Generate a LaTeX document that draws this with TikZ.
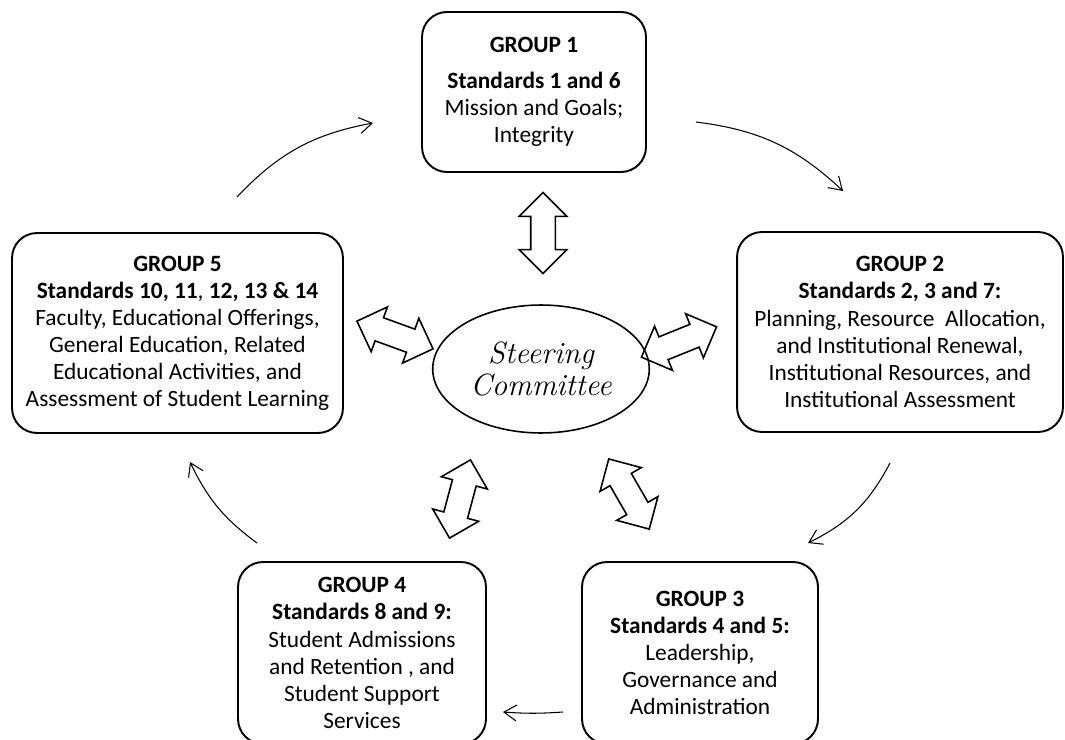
\documentclass[tikz,border=0pt]{standalone}
\usepackage{fontspec}
\newfontfamily\boxfont{Carlito}
\usetikzlibrary{arrows.meta,shapes.geometric,shapes.arrows}

\begin{document}
\begin{tikzpicture}[x=0.02cm,y=-0.02cm,
  group/.style={draw,line width=1.1pt,rounded corners=0.5cm,align=center,
                font=\boxfont\fontsize{13.3}{15.4}\selectfont,inner sep=2pt},
  steer/.style={draw,ellipse,line width=0.9pt,align=center,
                minimum width=3.76cm,minimum height=2.56cm,
                font=\fontsize{17.5}{18.5}\selectfont\itshape},
  link/.style={double arrow,draw,line width=0.9pt,inner xsep=0pt,inner ysep=0.23cm,
               minimum height=1.62cm,double arrow head extend=0.23cm},
  cycle/.style={->,line width=0.6pt,bend left=18},
  >={Straight Barb[length=2.5mm,width=3.2mm]}]
\clip (0,0) rectangle (1065,740);
% the five working groups
\node[group,minimum width=4.48cm,minimum height=3.2cm] (g1) at (534,92)
  {\textbf{GROUP 1}\\[5pt]\textbf{Standards 1 and 6}\\Mission and Goals;\\Integrity};
\node[group,minimum width=6.52cm,minimum height=4cm] (g2) at (900,332)
  {\textbf{GROUP 2}\\\textbf{Standards 2, 3 and 7:}\\Planning, Resource~~Allocation,\\
   and Institutional Renewal,\\Institutional Resources, and\\Institutional Assessment};
\node[group,minimum width=4.72cm,minimum height=3.64cm] (g3) at (700,653)
  {\textbf{GROUP 3}\\\textbf{Standards 4 and 5:}\\Leadership,\\Governance and\\Administration};
\node[group,minimum width=4.96cm,minimum height=3.64cm] (g4) at (362,653)
  {\textbf{GROUP 4}\\\textbf{Standards 8 and 9:}\\Student Admissions\\and Retention , and\\
   Student Support\\Services};
\node[group,minimum width=6.62cm,minimum height=4cm] (g5) at (177.5,333)
  {\textbf{GROUP 5}\\\textbf{Standards 10, 11}, \textbf{12, 13 \& 14}\\Faculty, Educational Offerings,\\
   General Education, Related\\Educational Activities, and\\Assessment of Student Learning};
% committee in the middle
\node[steer] (sc) at (541,369) {Steering\\Committee};
% two-way links
\node[link,rotate=90] (l1) at (543,233) {};
\node[link,rotate=22] (l2) at (679,342) {};
\node[link,rotate=120] (l3) at (629,494) {};
\node[link,rotate=75] (l4) at (460,499) {};
\node[link,rotate=-20] (l5) at (395,335) {};
% cycle between groups
\coordinate (c12a) at (696,122); \coordinate (c12b) at (843,191);
\coordinate (c23a) at (890,463); \coordinate (c23b) at (808,543);
\coordinate (c34a) at (563,712); \coordinate (c34b) at (503,712);
\coordinate (c45a) at (257,543); \coordinate (c45b) at (190,462);
\coordinate (c51a) at (237,197); \coordinate (c51b) at (373,123);
\draw[cycle] (c12a) to (c12b);
\draw[cycle] (c23a) to (c23b);
\draw[cycle,bend left=4] (c34a) to (c34b);
\draw[cycle,bend left=14] (c45a) to (c45b);
\draw[cycle] (c51a) to (c51b);
\end{tikzpicture}
\end{document}
